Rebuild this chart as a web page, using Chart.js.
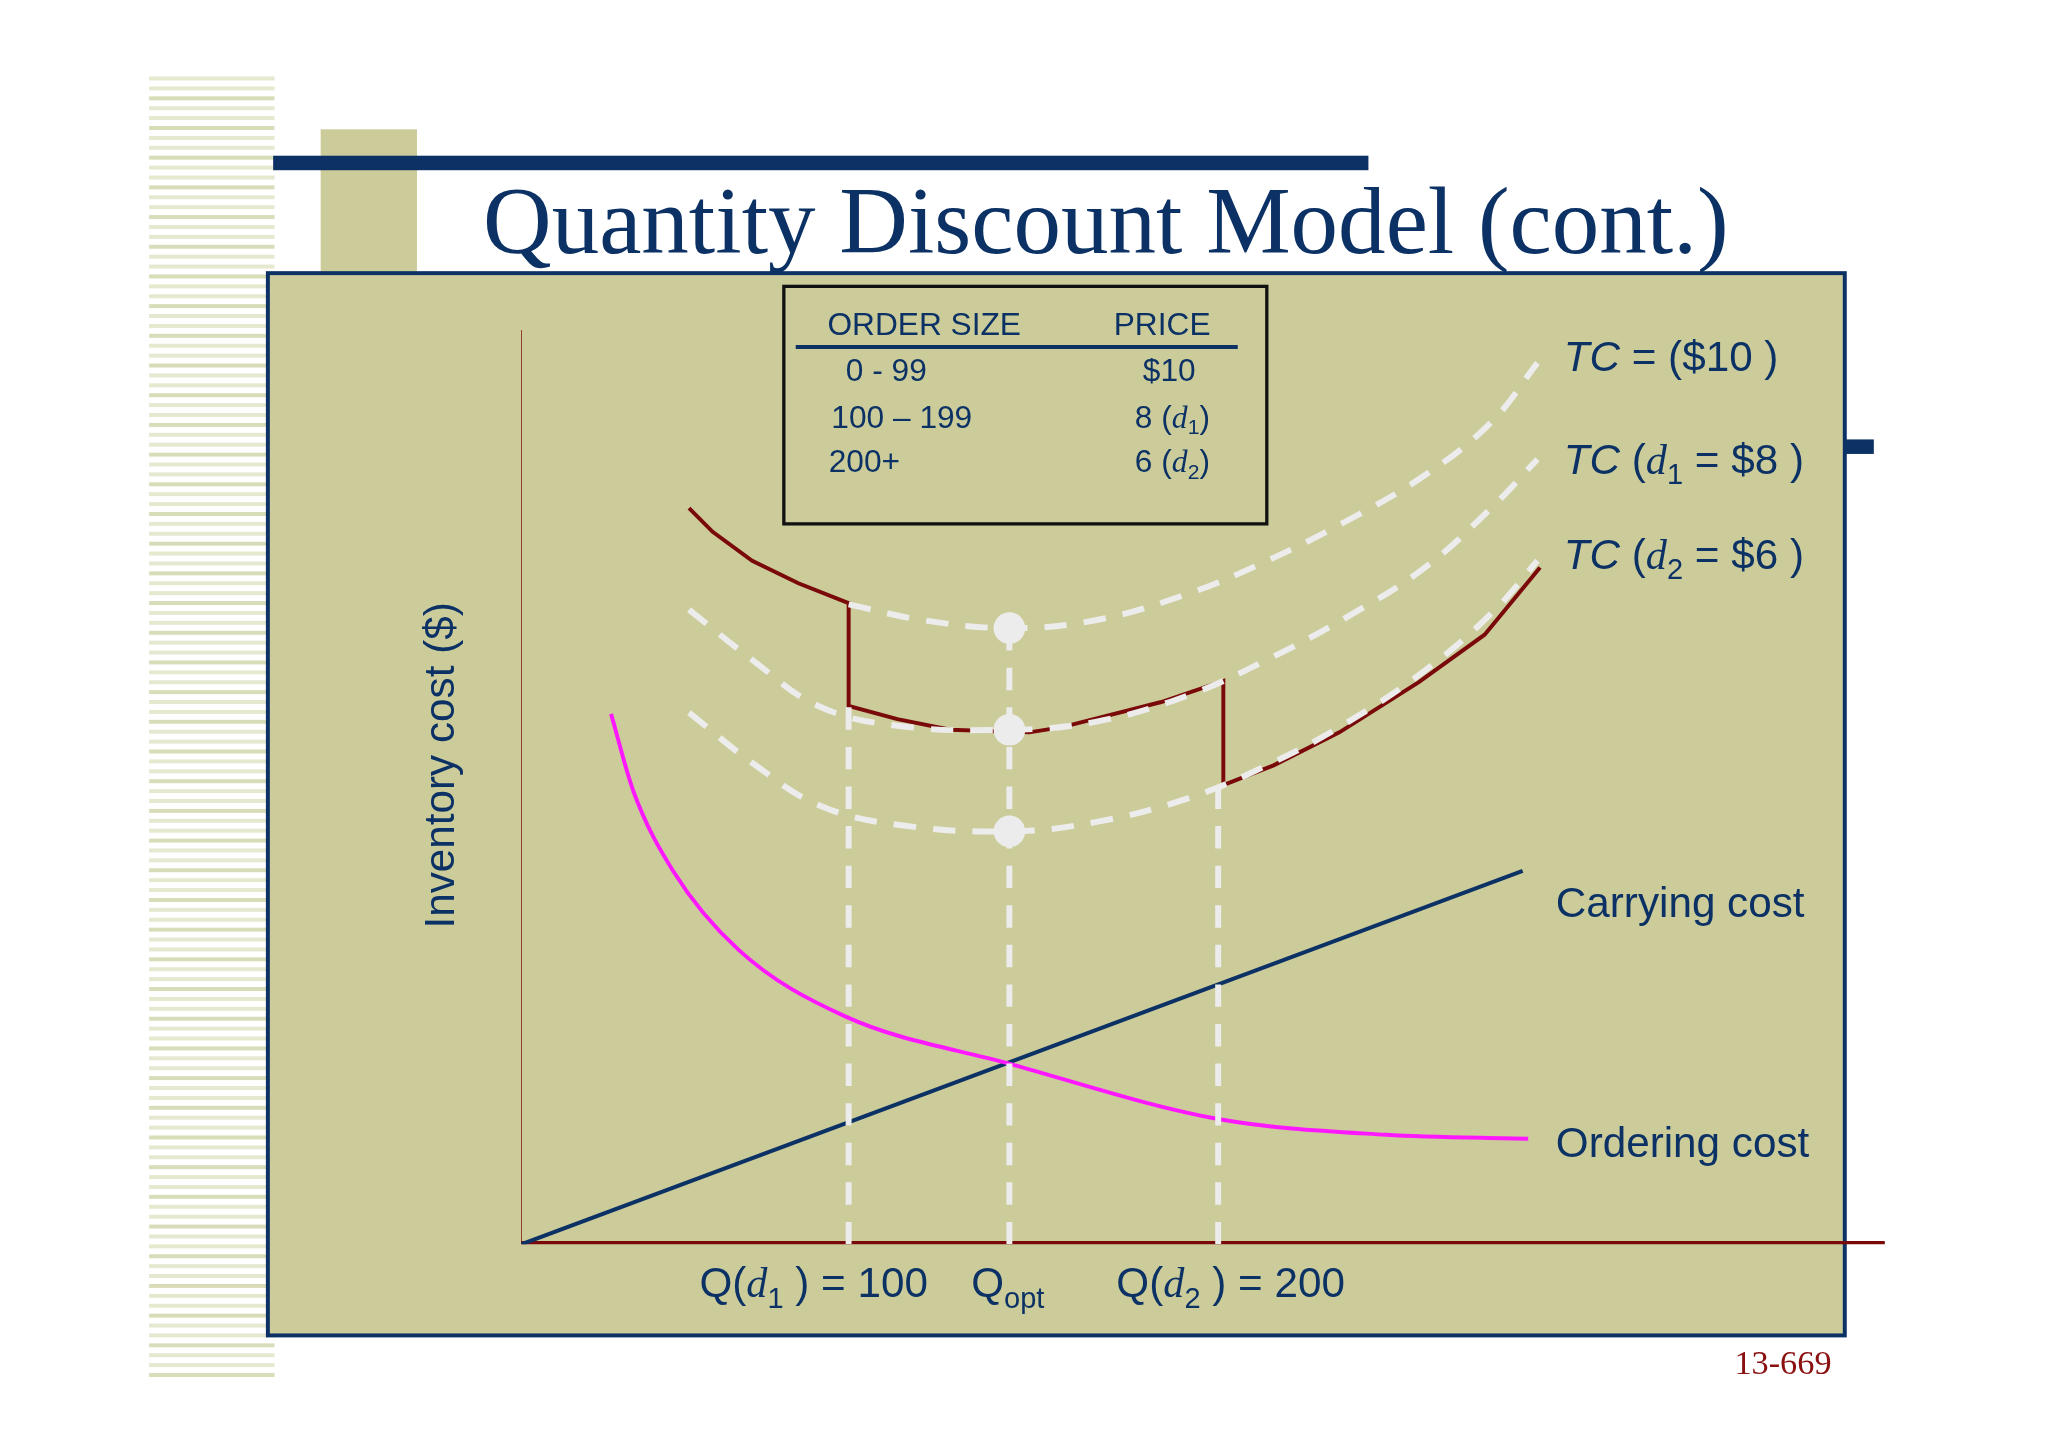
<!DOCTYPE html>
<html>
<head>
<meta charset="utf-8">
<script src="https://cdn.jsdelivr.net/npm/chart.js@4.4.1/dist/chart.umd.min.js"></script>
<style>
  body { margin: 0; background: #fff; }
  canvas { display: block; }
</style>
</head>
<body>
<canvas id="chart" width="2048" height="1447"></canvas>
<script>
// ===============================
// Data (Q = order quantity, C = cost)
// ===============================
const carryQ = [0, 271];
const carryC = [0, 283];

const orderQ = [24.3, 30.4, 41.1, 58.9, 87.5, 132, 188.6, 234, 272.5];
const orderC = [402, 343, 283, 223, 173, 137, 95, 83, 80];

const tc10Q = [88.6, 108.9, 132.1, 155.4, 180.4, 201.8, 223.2, 244.6, 262.5, 275];
const tc10C = [485, 473, 467, 473, 493, 518, 548, 583, 623, 668];

const tcQ = [45.4, 62.5, 80.4, 101.8, 132.1, 155.4, 180.4, 201.8, 223.2, 244.6, 262.5, 275];
const tc8C = [481, 443, 408, 393, 390, 396, 416, 443, 475, 513, 558, 595];
const tc6C = [403, 365, 333, 318, 313, 320, 338, 363, 395, 435, 478, 518];

const tcQ_all = [45.4, 51.8, 62.5, 75, 88.6, 88.6, 101.8, 116.1, 137.5, 146.4, 173.2, 190, 190, 203.6, 221.4, 242.9, 260.7, 275.7];
const tcC_all = [558, 540, 518, 501, 486, 408, 398, 390, 388, 392, 411, 427, 348, 363, 388, 426, 462, 513];

const optQ = 132.1;
const optC = [467, 390, 313];

const dropQ = [88.6, 132.1, 188.6];
const dropC = [408, 467, 348];

const S = 2048 / 1552; // reference drawn at 1552 wide
const NAVY = "#0c3265";
const DARKRED = "#7a0a0a";
const TAN = "#cccc9b";

function pts(xs, ys) {
  return xs.map((x, i) => ({ x: x, y: ys[i] }));
}

// ===============================
// Datasets
// ===============================
const datasets = [];
const dashed = { borderColor: "#ececec", borderWidth: 4.5 * S, borderDash: [17 * S, 13 * S], pointRadius: 0, tension: 0.4, fill: false };

dropQ.forEach((q, i) => {
  datasets.push({ ...dashed, tension: 0, data: [{ x: q, y: 0 }, { x: q, y: dropC[i] }] });
});
datasets.push({ ...dashed, data: pts(tc10Q, tc10C) });
datasets.push({ ...dashed, data: pts(tcQ, tc8C) });
datasets.push({ ...dashed, data: pts(tcQ, tc6C) });
datasets.push({
  data: optC.map((c) => ({ x: optQ, y: c })),
  showLine: false, pointRadius: 12 * S, pointBackgroundColor: "#ececec", pointBorderWidth: 0,
});
datasets.push({ data: pts(tcQ_all, tcC_all), borderColor: DARKRED, borderWidth: 3 * S, pointRadius: 0, tension: 0 });
datasets.push({ data: pts(orderQ, orderC), borderColor: "#ff18ff", borderWidth: 3 * S, pointRadius: 0, tension: 0.4, cubicInterpolationMode: "monotone" });
datasets.push({ data: pts(carryQ, carryC), borderColor: NAVY, borderWidth: 3 * S, pointRadius: 0 });
// axes
datasets.push({ data: [{ x: -0.7, y: 0 }, { x: -0.7, y: 693 }], borderColor: DARKRED, borderWidth: 5 * S, pointRadius: 0 });
datasets.push({ data: [{ x: -0.7, y: 0 }, { x: 369, y: 0 }], borderColor: DARKRED, borderWidth: 5 * S, pointRadius: 0 });

// ===============================
// Slide decoration
// ===============================
function text(ctx, parts, x, y, align) {
  let w = 0;
  parts.forEach((p) => { ctx.font = p[1]; w += ctx.measureText(p[0]).width; });
  let cx = align === "right" ? x - w : align === "center" ? x - w / 2 : x;
  parts.forEach((p) => {
    ctx.font = p[1];
    ctx.fillText(p[0], cx, y + (p[2] || 0));
    cx += ctx.measureText(p[0]).width;
  });
}

const slideBack = {
  id: "slideBack",
  beforeDraw(chart) {
    const ctx = chart.ctx;
    ctx.save();
    ctx.scale(S, S);
    ctx.fillStyle = "#fff";
    ctx.fillRect(0, 0, 1552, 1100);
    // left stripes
    for (let y = 58; y < 1048; y += 7.5) {
      ctx.fillStyle = (Math.floor(y / 7.5) % 3 === 0) ? "#d9dcb8" : "#e6e8cf";
      ctx.fillRect(113, y, 95, 3);
    }
    ctx.fillStyle = TAN;
    ctx.fillRect(243, 98, 73, 110);
    ctx.fillStyle = NAVY;
    ctx.fillRect(207, 118, 830, 11);
    ctx.fillRect(1398, 333, 22, 11);
    // panel
    ctx.fillStyle = TAN;
    ctx.fillRect(203, 207, 1195, 805);
    ctx.strokeStyle = NAVY;
    ctx.lineWidth = 3;
    ctx.strokeRect(203, 207, 1195, 805);
    ctx.restore();
  },
  afterDraw(chart) {
    const ctx = chart.ctx;
    ctx.save();
    ctx.scale(S, S);
    ctx.textBaseline = "alphabetic";
    ctx.fillStyle = NAVY;
    ctx.font = "72px 'Liberation Serif'";
    ctx.textAlign = "left";
    text(ctx, [["Quantity Discount Model (cont.)", "72px 'Liberation Serif'"]], 838, 192, "center");

    // table
    ctx.strokeStyle = "#111";
    ctx.lineWidth = 2.5;
    ctx.strokeRect(594, 217, 366, 180);
    ctx.strokeStyle = NAVY;
    ctx.lineWidth = 3;
    ctx.beginPath(); ctx.moveTo(603, 263); ctx.lineTo(938, 263); ctx.stroke();
    const sf = "24px 'Liberation Sans'";
    const it = "italic 24px 'Liberation Serif'";
    const sub = "italic 16px 'Liberation Serif'";
    text(ctx, [["ORDER SIZE", sf]], 627, 254);
    text(ctx, [["PRICE", sf]], 844, 254);
    text(ctx, [["0 - 99", sf]], 641, 289);
    text(ctx, [["$10", sf]], 866, 289);
    text(ctx, [["100 – 199", sf]], 630, 324);
    text(ctx, [["8 (", sf], ["d", it], ["1", "16px 'Liberation Sans'", 5], [")", sf]], 860, 324);
    text(ctx, [["200+", sf]], 628, 358);
    text(ctx, [["6 (", sf], ["d", it], ["2", "16px 'Liberation Sans'", 5], [")", sf]], 860, 358);

    // curve labels
    const lf = "32px 'Liberation Sans'";
    const li = "italic 32px 'Liberation Sans'";
    const ls = "italic 32px 'Liberation Serif'";
    const lsub = "22px 'Liberation Sans'";
    text(ctx, [["TC", li], [" = ($10 )", lf]], 1185, 281);
    text(ctx, [["TC", li], [" (", lf], ["d", ls], ["1", lsub, 8], [" = $8 )", lf]], 1185, 359);
    text(ctx, [["TC", li], [" (", lf], ["d", ls], ["2", lsub, 8], [" = $6 )", lf]], 1185, 431);
    text(ctx, [["Carrying cost", lf]], 1179, 695);
    text(ctx, [["Ordering cost", lf]], 1179, 877);

    // x labels
    text(ctx, [["Q(", lf], ["d", ls], ["1", lsub, 8], [" ) = 100", lf]], 530, 983);
    text(ctx, [["Q", lf], ["opt", lsub, 8]], 736, 983);
    text(ctx, [["Q(", lf], ["d", ls], ["2", lsub, 8], [" ) = 200", lf]], 846, 983);

    // y label
    ctx.save();
    ctx.translate(344, 580);
    ctx.rotate(-Math.PI / 2);
    text(ctx, [["Inventory cost ($)", lf]], 0, 0, "center");
    ctx.restore();

    ctx.fillStyle = "#8b1010";
    text(ctx, [["13-669", "26px 'Liberation Serif'"]], 1388, 1041, "right");
    ctx.restore();
  },
};

new Chart(document.getElementById("chart"), {
  type: "line",
  data: { datasets: datasets },
  options: {
    responsive: false,
    animation: false,
    devicePixelRatio: 1,
    layout: {
      padding: { left: 395 * S, right: 2048 - 1430 * S, top: 243 * S, bottom: 1447 - 943 * S },
    },
    plugins: { legend: { display: false }, tooltip: { enabled: false } },
    scales: {
      x: { type: "linear", min: 0, max: 369.6, display: false },
      y: { type: "linear", min: 0, max: 700, display: false },
    },
  },
  plugins: [slideBack],
});
</script>
</body>
</html>
